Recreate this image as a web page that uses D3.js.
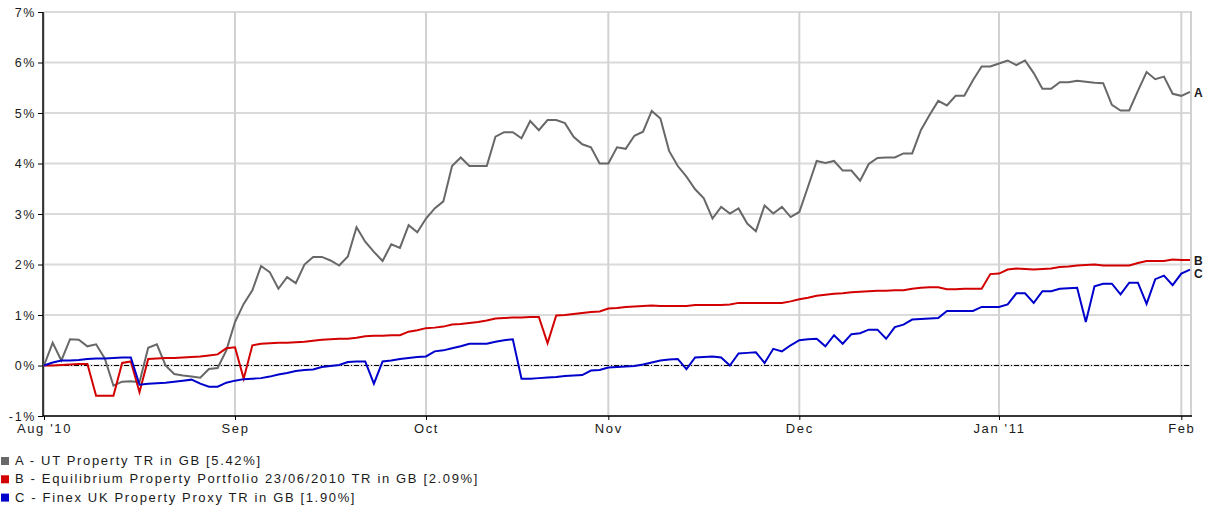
<!DOCTYPE html>
<html>
<head>
<meta charset="utf-8">
<script src="https://cdn.jsdelivr.net/npm/d3@7"></script>
<style>
  html, body { margin: 0; padding: 0; background: #ffffff; }
  svg text { font-family: "Liberation Sans", Arial, sans-serif; fill: #1a1a1a; }
</style>
</head>
<body>
<svg id="chart" width="1209" height="505"></svg>
<script>
// Trading-day index of each month start (Aug 2 2010 = day 0)
const monthTicks = [0, 22, 44, 65, 87, 110, 131];
const monthLabels = ["Aug '10", "Sep", "Oct", "Nov", "Dec", "Jan '11", "Feb"];
const yTicks = [-1, 0, 1, 2, 3, 4, 5, 6, 7];

const seriesKeys = ["A", "B", "C"];
const seriesNames = [
  "A - UT Property TR in GB [5.42%]",
  "B - Equilibrium Property Portfolio 23/06/2010 TR in GB [2.09%]",
  "C - Finex UK Property Proxy TR in GB [1.90%]"
];
const seriesColors = ["#686868", "#d20000", "#0000cc"];

// Cumulative total return (%) per trading day
const utProperty = [
  0.00, 0.45, 0.10, 0.52, 0.51, 0.38, 0.42, 0.14, -0.40, -0.32,
  -0.31, -0.33, 0.35, 0.42, 0.00, -0.17, -0.20, -0.22, -0.24, -0.07,
  -0.05, 0.30, 0.86, 1.22, 1.49, 1.97, 1.85, 1.52, 1.75, 1.63,
  2.00, 2.15, 2.15, 2.08, 1.98, 2.16, 2.74, 2.45, 2.25, 2.07,
  2.40, 2.33, 2.78, 2.64, 2.91, 3.11, 3.25, 3.95, 4.12, 3.95,
  3.95, 3.95, 4.53, 4.62, 4.62, 4.50, 4.84, 4.66, 4.86, 4.86,
  4.80, 4.53, 4.38, 4.32, 4.00, 4.00, 4.32, 4.29, 4.55, 4.63,
  5.04, 4.89, 4.25, 3.95, 3.74, 3.49, 3.31, 2.91, 3.14, 3.01,
  3.11, 2.81, 2.66, 3.17, 3.01, 3.14, 2.94, 3.04, 3.54, 4.05,
  4.01, 4.05, 3.86, 3.86, 3.66, 3.99, 4.11, 4.12, 4.12, 4.20,
  4.20, 4.66, 4.96, 5.24, 5.15, 5.34, 5.34, 5.65, 5.92, 5.92,
  5.98, 6.04, 5.95, 6.04, 5.79, 5.48, 5.48, 5.61, 5.61, 5.64,
  5.62, 5.60, 5.59, 5.16, 5.05, 5.05, 5.44, 5.81, 5.67, 5.72,
  5.38, 5.34, 5.42
];
const equilibrium = [
  0.00, 0.00, 0.01, 0.02, 0.03, 0.03, -0.60, -0.60, -0.60, 0.05,
  0.08, -0.53, 0.13, 0.14, 0.15, 0.15, 0.16, 0.17, 0.18, 0.20,
  0.22, 0.34, 0.36, -0.26, 0.40, 0.43, 0.44, 0.45, 0.45, 0.46,
  0.47, 0.49, 0.51, 0.52, 0.53, 0.53, 0.55, 0.58, 0.59, 0.59,
  0.60, 0.60, 0.67, 0.70, 0.74, 0.75, 0.77, 0.81, 0.82, 0.84,
  0.86, 0.89, 0.93, 0.94, 0.95, 0.95, 0.96, 0.96, 0.44, 0.99,
  1.00, 1.02, 1.04, 1.06, 1.07, 1.13, 1.14, 1.16, 1.17, 1.18,
  1.19, 1.18, 1.18, 1.18, 1.18, 1.20, 1.20, 1.20, 1.20, 1.21,
  1.24, 1.24, 1.24, 1.24, 1.24, 1.24, 1.27, 1.31, 1.34, 1.38,
  1.40, 1.42, 1.43, 1.45, 1.46, 1.47, 1.48, 1.48, 1.49, 1.49,
  1.52, 1.54, 1.55, 1.55, 1.51, 1.51, 1.52, 1.52, 1.52, 1.81,
  1.82, 1.90, 1.92, 1.91, 1.90, 1.91, 1.92, 1.95, 1.96, 1.98,
  1.99, 2.00, 1.98, 1.98, 1.98, 1.98, 2.03, 2.07, 2.07, 2.07,
  2.10, 2.09, 2.09
];
const finexProxy = [
  0.00, 0.06, 0.10, 0.10, 0.11, 0.13, 0.14, 0.14, 0.15, 0.16,
  0.16, -0.38, -0.36, -0.35, -0.34, -0.32, -0.30, -0.28, -0.36, -0.42,
  -0.42, -0.34, -0.30, -0.27, -0.26, -0.25, -0.22, -0.18, -0.15, -0.11,
  -0.09, -0.08, -0.03, -0.01, 0.01, 0.07, 0.08, 0.08, -0.36, 0.08,
  0.10, 0.13, 0.15, 0.17, 0.18, 0.28, 0.30, 0.34, 0.38, 0.43,
  0.43, 0.43, 0.47, 0.50, 0.52, -0.26, -0.26, -0.25, -0.24, -0.23,
  -0.21, -0.20, -0.19, -0.10, -0.09, -0.04, -0.03, -0.02, -0.01, 0.02,
  0.06, 0.10, 0.12, 0.13, -0.07, 0.16, 0.17, 0.18, 0.16, 0.00,
  0.24, 0.25, 0.26, 0.05, 0.33, 0.28, 0.40, 0.50, 0.52, 0.53,
  0.38, 0.60, 0.43, 0.62, 0.64, 0.71, 0.71, 0.53, 0.76, 0.81,
  0.91, 0.92, 0.93, 0.94, 1.08, 1.08, 1.08, 1.08, 1.16, 1.16,
  1.16, 1.21, 1.43, 1.43, 1.24, 1.47, 1.47, 1.52, 1.53, 1.54,
  0.86, 1.57, 1.62, 1.62, 1.41, 1.64, 1.64, 1.22, 1.71, 1.78,
  1.59, 1.82, 1.90
];

const seriesData = [utProperty, equilibrium, finexProxy];

// Plot frame
const plotLeft = 44, plotRight = 1191, plotTop = 12, plotBottom = 416;
const lastDay = utProperty.length - 1;

const x = d3.scaleLinear().domain([0, lastDay]).range([plotLeft, 1190]);
const y = d3.scaleLinear().domain([-1, 7]).range([plotBottom, plotTop]);

const svg = d3.select("#chart");
const textStyle = s => s.attr("font-size", 13).attr("letter-spacing", "1.65px");

// Horizontal gridlines
svg.append("g").selectAll("line").data(yTicks).join("line")
  .attr("x1", plotLeft).attr("x2", plotRight)
  .attr("y1", d => y(d)).attr("y2", d => y(d))
  .attr("stroke", "#dadada").attr("stroke-width", 2);

// Vertical month gridlines plus right frame
svg.append("g").selectAll("line").data(monthTicks).join("line")
  .attr("x1", d => x(d)).attr("x2", d => x(d))
  .attr("y1", plotTop).attr("y2", plotBottom)
  .attr("stroke", "#d2d2d2").attr("stroke-width", 2);
svg.append("line")
  .attr("x1", plotRight).attr("x2", plotRight).attr("y1", plotTop - 1).attr("y2", plotBottom)
  .attr("stroke", "#d2d2d2").attr("stroke-width", 2);

// Zero reference line
svg.append("line")
  .attr("x1", plotLeft).attr("x2", 1190)
  .attr("y1", y(0)).attr("y2", y(0))
  .attr("stroke", "#000").attr("stroke-width", 1)
  .attr("stroke-dasharray", "5,2,1,2");

// Axes
const yAxis = d3.axisLeft(y).tickValues(yTicks).tickSize(5).tickPadding(2)
  .tickFormat(d => d + "%");
const yG = svg.append("g").attr("transform", `translate(${plotLeft - 1},0)`).call(yAxis);
yG.attr("font-family", null);
yG.select(".domain").attr("stroke", "#000").attr("stroke-width", 1.5)
  .attr("d", `M0,${plotTop}V${plotBottom}`);
yG.selectAll(".tick line").attr("stroke", "#000");
yG.selectAll(".tick text").call(textStyle).attr("font-size", 12.5);

const xAxis = d3.axisBottom(x).tickValues(monthTicks).tickSize(4).tickPadding(4)
  .tickFormat((d, i) => monthLabels[i]);
const xG = svg.append("g").attr("transform", `translate(0,${plotBottom})`).call(xAxis);
xG.attr("font-family", null);
xG.select(".domain").attr("stroke", "#000").attr("stroke-width", 1.5)
  .attr("d", `M${plotLeft - 1},0H${plotRight + 1}`);
xG.selectAll(".tick line").attr("stroke", "#000");
xG.selectAll(".tick text").call(textStyle);

// Series lines
const line = d3.line().x((d, i) => x(i)).y(d => y(d));
svg.append("g").selectAll("path").data(seriesData).join("path")
  .attr("d", line)
  .attr("fill", "none")
  .attr("stroke", (d, i) => seriesColors[i])
  .attr("stroke-width", 2)
  .attr("stroke-linejoin", "miter");

// End-of-line series labels, nudged apart when they crowd
const endLabels = seriesData.map((d, i) => ({ key: seriesKeys[i], yPos: y(d[d.length - 1]) }))
  .sort((a, b) => a.yPos - b.yPos);
for (let i = 1; i < endLabels.length; i++) {
  if (endLabels[i].yPos - endLabels[i - 1].yPos < 13) endLabels[i].yPos = endLabels[i - 1].yPos + 13;
}
svg.append("g").selectAll("text").data(endLabels).join("text")
  .attr("x", 1194).attr("y", d => d.yPos + 1)
  .attr("dy", "0.35em")
  .attr("font-size", 12).attr("font-weight", "bold")
  .text(d => d.key);

// Legend
const legend = svg.append("g").selectAll("g").data(seriesNames).join("g")
  .attr("transform", (d, i) => `translate(0,${465 + i * 18.3})`);
legend.append("rect")
  .attr("x", 1).attr("y", -8).attr("width", 8).attr("height", 8)
  .attr("fill", (d, i) => seriesColors[i]);
legend.append("text")
  .attr("x", 15).attr("y", 0)
  .call(textStyle)
  .text(d => d);
</script>
</body>
</html>
